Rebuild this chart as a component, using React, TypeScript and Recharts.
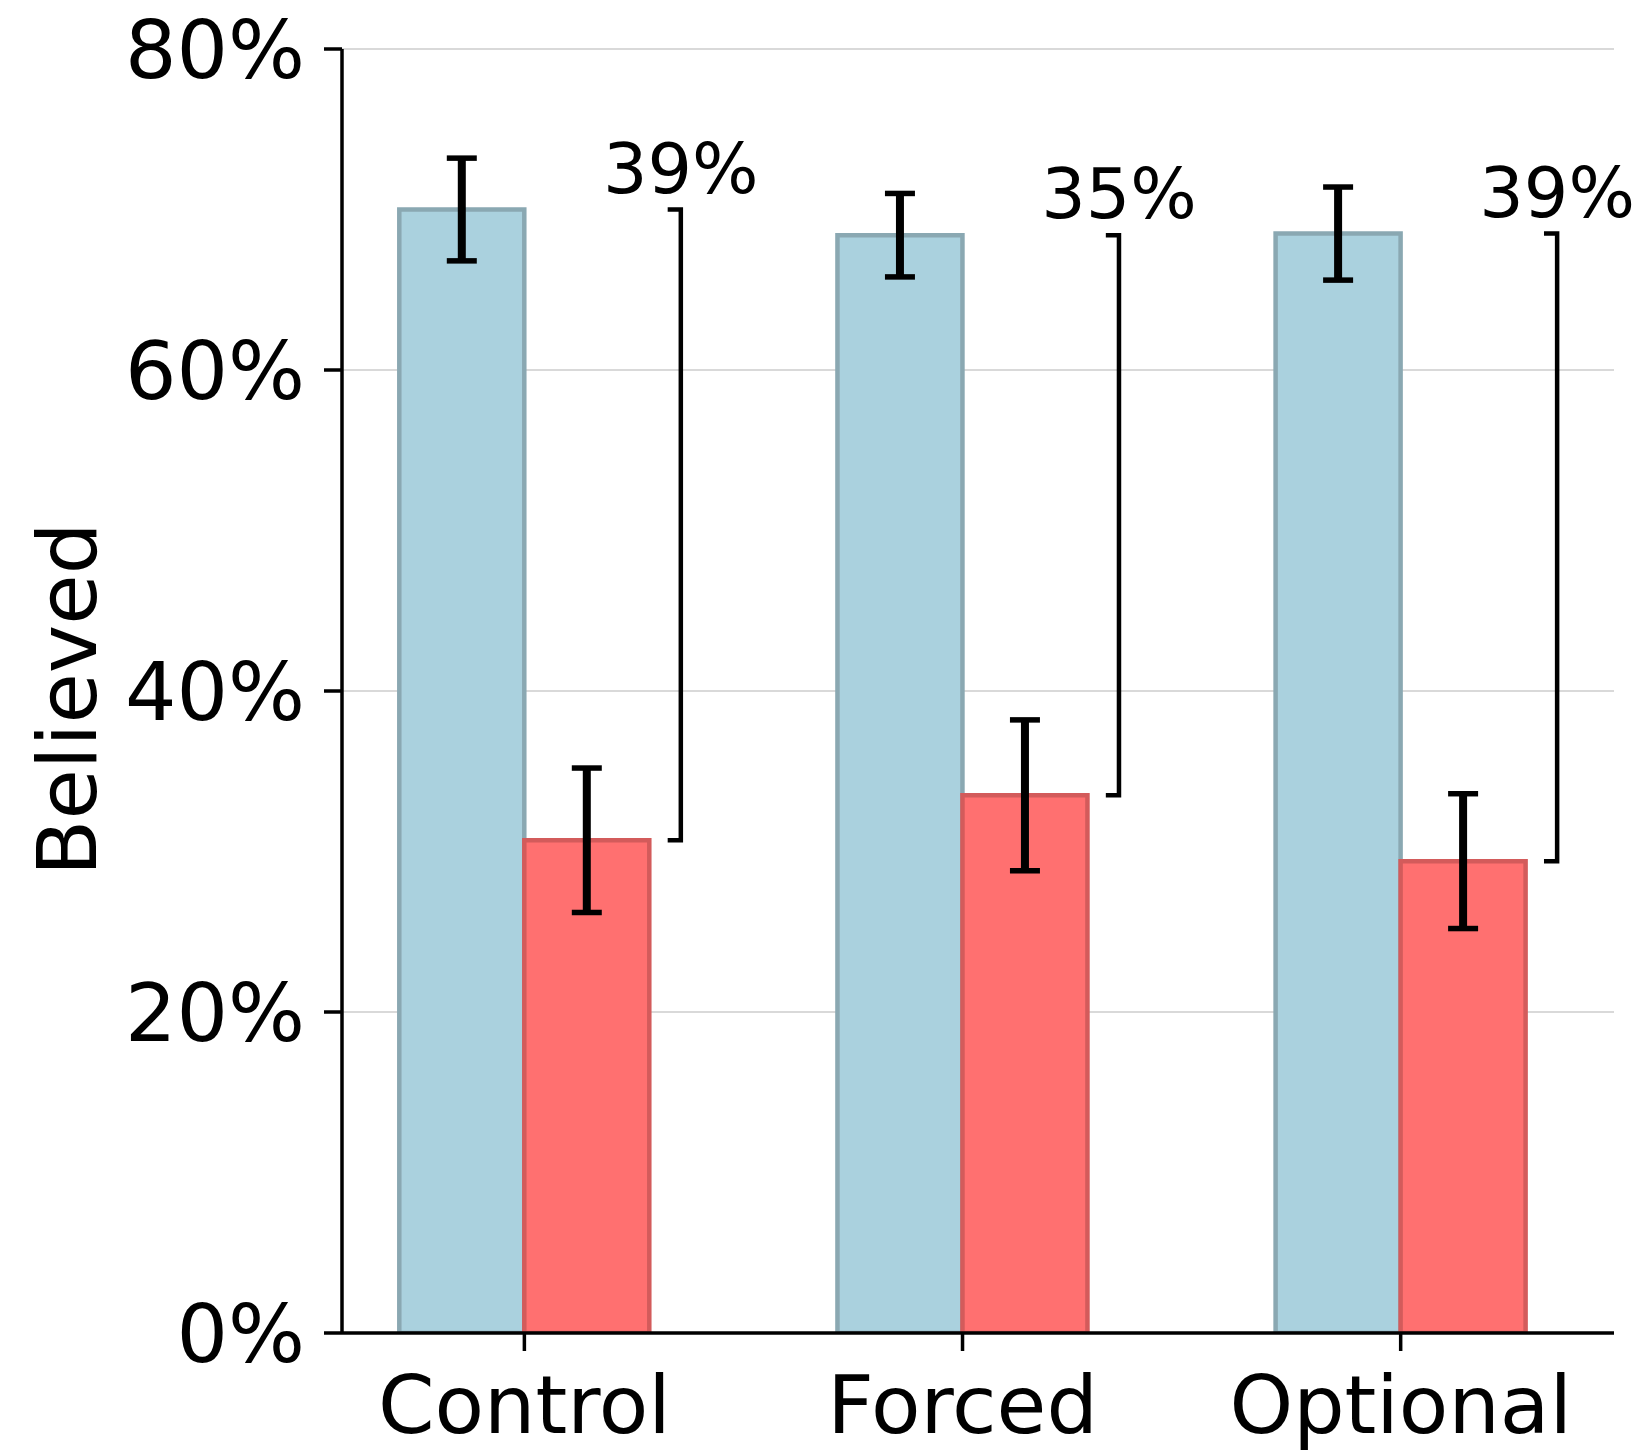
import React from 'react';
import {
  ComposedChart,
  Bar,
  ErrorBar,
  XAxis,
  YAxis,
  CartesianGrid,
  Scatter,
  ReferenceDot,
} from 'recharts';

// ---- data ----
const categories = ['Control', 'Forced', 'Optional'];
const blueValues = [70.0, 68.4, 68.5];
const blueErrors = [3.2, 2.6, 2.9];
const redValues = [30.7, 33.5, 29.4];
const redErrors = [4.5, 4.7, 4.2];
const diffLabels = ['39%', '35%', '39%'];
const yTicks = [0, 20, 40, 60, 80];

// ---- style ----
const FONT = 'DejaVu Sans';
const BLUE_FILL = '#aad1de';
const BLUE_EDGE = '#8aa8b2';
const RED_FILL = '#ff7070';
const RED_EDGE = '#d35b5b';
const BRACKET_OFFSET = 0.357; // x offset (category units) of bracket from category center
const BRACKET_TICK = 0.03;

const data = categories.map((c, i) => ({
  name: c,
  blue: blueValues[i],
  blueErr: blueErrors[i],
  red: redValues[i],
  redErr: redErrors[i],
}));

const brackets = categories.map((_, i) => [
  { x: i + BRACKET_OFFSET - BRACKET_TICK, y: blueValues[i] },
  { x: i + BRACKET_OFFSET, y: blueValues[i] },
  { x: i + BRACKET_OFFSET, y: redValues[i] },
  { x: i + BRACKET_OFFSET - BRACKET_TICK, y: redValues[i] },
]);

const renderYLabel = (props: any) => {
  const vb = props.viewBox || { x: 0, y: 49, width: 342, height: 1284 };
  const cx = vb.x + 66;
  const cy = vb.y + vb.height / 2 + 8;
  return (
    <text
      x={cx}
      y={cy}
      transform={`rotate(-90, ${cx}, ${cy})`}
      textAnchor="middle"
      dy="0.36em"
      fontSize={82}
      fontFamily={FONT}
      fill="#000"
    >
      Believed
    </text>
  );
};

const NoShape = () => <g />;

export default function App() {
  return (
    <div style={{ position: 'absolute', left: 0, top: 0, background: '#fff' }}>
      <ComposedChart
        width={1649}
        height={1451}
        data={data}
        margin={{ top: 49, right: 35, bottom: 0, left: 0 }}
        barGap={0}
      >
        <CartesianGrid
          xAxisId="cat"
          horizontal
          vertical={false}
          stroke="#d9d9d9"
          strokeWidth={2}
        />
        <XAxis
          xAxisId="cat"
          type="category"
          dataKey="name"
          padding={{ left: -36.7, right: -5.75 }}
          height={118}
          tickSize={18}
          tickMargin={24}
          axisLine={{ stroke: '#000', strokeWidth: 3.5 }}
          tickLine={{ stroke: '#000', strokeWidth: 3.5 }}
          tick={{ fontSize: 81, fontFamily: FONT, fill: '#000' }}
          interval={0}
        />
        <XAxis
          xAxisId="num"
          type="number"
          dataKey="x"
          domain={[-0.4163, 2.4868]}
          allowDataOverflow
          hide
        />
        <YAxis
          type="number"
          domain={[0, 80]}
          allowDataOverflow
          ticks={yTicks}
          tickFormatter={(v: number) => `${v}%`}
          width={342}
          tickSize={18}
          tickMargin={19}
          axisLine={{ stroke: '#000', strokeWidth: 3.5 }}
          tickLine={{ stroke: '#000', strokeWidth: 3.5 }}
          tick={{ fontSize: 81, fontFamily: FONT, fill: '#000' }}
          label={{ value: 'Believed', content: renderYLabel }}
        />
        <Bar
          xAxisId="cat"
          dataKey="blue"
          barSize={125}
          fill={BLUE_FILL}
          stroke={BLUE_EDGE}
          strokeWidth={4.5}
          isAnimationActive={false}
        >
          <ErrorBar dataKey="blueErr" direction="y" width={0} stroke="#000" strokeWidth={8} />
          <ErrorBar dataKey="blueErr" direction="y" width={15} stroke="#000" strokeWidth={5.5} />
        </Bar>
        <Bar
          xAxisId="cat"
          dataKey="red"
          barSize={125}
          fill={RED_FILL}
          stroke={RED_EDGE}
          strokeWidth={4.5}
          isAnimationActive={false}
        >
          <ErrorBar dataKey="redErr" direction="y" width={0} stroke="#000" strokeWidth={8} />
          <ErrorBar dataKey="redErr" direction="y" width={15} stroke="#000" strokeWidth={5.5} />
        </Bar>
        {brackets.map((pts, i) => (
          <Scatter
            key={`br${i}`}
            xAxisId="num"
            data={pts}
            dataKey="y"
            line={{ stroke: '#000', strokeWidth: 4.5 }}
            lineType="joint"
            shape={NoShape}
            isAnimationActive={false}
          />
        ))}
        {categories.map((_, i) => (
          <ReferenceDot
            key={`lb${i}`}
            xAxisId="num"
            x={i + BRACKET_OFFSET}
            y={blueValues[i]}
            r={1}
            fill="none"
            stroke="none"
            ifOverflow="visible"
            label={{
              value: diffLabels[i],
              position: 'top',
              offset: 16,
              fontSize: 70,
              fontFamily: FONT,
              fill: '#000',
            }}
          />
        ))}
      </ComposedChart>
    </div>
  );
}
